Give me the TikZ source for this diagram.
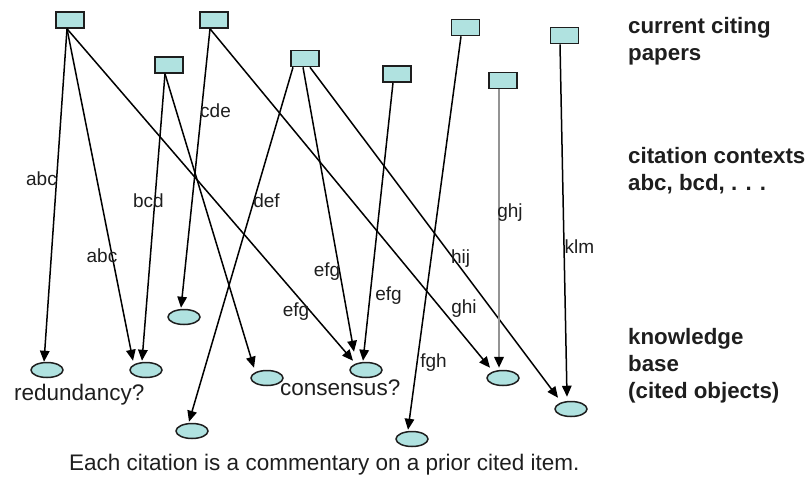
\documentclass[tikz,border=0pt]{standalone}
\usepackage{fontspec}
\setmainfont{Liberation Sans}
\usetikzlibrary{shapes.geometric,arrows.meta}
\definecolor{paper}{RGB}{176,226,224}
\definecolor{ink}{RGB}{30,30,30}
\begin{document}
\begin{tikzpicture}[x=1pt,y=-1pt,
  citing/.style={draw=ink,fill=paper,line width=1.6pt,minimum width=28pt,minimum height=16pt,inner sep=0pt},
  cited/.style={ellipse,draw=ink,fill=paper,line width=1.5pt,minimum width=32pt,minimum height=15pt,inner sep=0pt},
  cite/.style={draw=black,line width=1.5pt,-{Triangle[length=11pt,width=9.5pt]}},
  ctx/.style={font=\fontsize{19}{22}\selectfont,anchor=base,inner sep=0pt,text=ink},
  note/.style={font=\fontsize{22.5}{27}\selectfont,anchor=base west,inner sep=0pt,text=ink},
  legend/.style={font=\fontsize{22.3}{26.7}\selectfont\bfseries,anchor=base west,inner sep=0pt,align=left,text=ink}
]
\useasboundingbox (0,0) rectangle (810,477);

% current citing papers
\node[citing] (r1) at (70,20) {};
\node[citing] (r2) at (214,20) {};
\node[citing] (r3) at (169,65) {};
\node[citing] (r4) at (305,58.5) {};
\node[citing] (r5) at (397,74) {};
\node[citing] (r6) at (465.5,27.5) {};
\node[citing] (r7) at (503,80.5) {};
\node[citing] (r8) at (564.5,35.5) {};

% cited objects in the knowledge base
\node[cited] (e1) at (47,370) {};
\node[cited] (e2) at (146,370) {};
\node[cited] (e3) at (184,317) {};
\node[cited] (e4) at (267,378) {};
\node[cited] (e5) at (366,370) {};
\node[cited] (e6) at (192,431) {};
\node[cited] (e7) at (412,439) {};
\node[cited] (e8) at (503,378) {};
\node[cited] (e9) at (571,409) {};

% citations
\draw[cite] ([xshift=-3pt]r1.south) -- ([xshift=-3pt]e1.north);
\draw[cite] ([xshift=-3pt]r1.south) -- ([xshift=-13pt,yshift=1pt]e2.north);
\draw[cite] ([xshift=-3pt]r1.south) -- ([xshift=-13pt,yshift=1pt]e5.north);
\draw[cite] ([xshift=-4pt]r2.south) -- ([xshift=-3pt,yshift=1pt]e3.north);
\draw[cite] ([xshift=-4pt]r2.south) -- ([xshift=-13pt,yshift=2pt]e8.north);
\draw[cite] ([xshift=-4pt]r3.south) -- ([xshift=-4pt,yshift=1pt]e2.north);
\draw[cite] ([xshift=-4pt]r3.south) -- ([xshift=-13pt,yshift=2pt]e4.north);
\draw[cite] ([xshift=-12pt]r4.south) -- ([xshift=-3pt,yshift=1pt]e6.north);
\draw[cite] ([xshift=-2pt]r4.south) -- ([xshift=-12pt,yshift=10pt]e5.north);
\draw[cite] ([xshift=5pt]r4.south) -- ([xshift=-13pt,yshift=3pt]e9.north);
\draw[cite] ([xshift=-4pt]r5.south) -- ([xshift=-3pt,yshift=1pt]e5.north);
\draw[cite] ([xshift=-4.5pt]r6.south) -- ([xshift=-4pt,yshift=1pt]e7.north);
\draw[cite,draw=gray!85,line width=2.2pt,-{Triangle[length=11pt,width=9.5pt,color=black]}] ([xshift=-4pt]r7.south) -- ([xshift=-4pt,yshift=2pt]e8.north);
\draw[cite] ([xshift=-4.5pt]r8.south) -- ([xshift=-4pt,yshift=4pt]e9.north);

% citation contexts
\node[ctx] (t1) at (41.5,185) {abc};
\node[ctx] (t2) at (102,262) {abc};
\node[ctx] (t3) at (148.5,207) {bcd};
\node[ctx] (t4) at (215.5,117) {cde};
\node[ctx] (t5) at (266.5,207) {def};
\node[ctx] (t6) at (327,276) {efg};
\node[ctx] (t7) at (388.5,300) {efg};
\node[ctx] (t8) at (296,316) {efg};
\node[ctx] (t9) at (510,217) {ghj};
\node[ctx] (t10) at (460.5,263) {hij};
\node[ctx] (t11) at (464,313) {ghi};
\node[ctx] (t12) at (433.5,367) {fgh};
\node[ctx] (t13) at (579.5,253) {klm};

% remarks
\node[note] (red) at (14,400) {redundancy?};
\node[note] (con) at (280,395) {consensus?};
\node[note] (cap) at (69,470) {Each citation is a commentary on a prior cited item.};

% legend (anchored at the baseline of each block's last line)
\node[legend] (l1) at (628,60) {current citing\\papers};
\node[legend] (l2) at (628,190) {citation contexts\\abc, bcd, . . .};
\node[legend] (l3) at (628,398) {knowledge\\base\\(cited objects)};
\end{tikzpicture}
\end{document}
